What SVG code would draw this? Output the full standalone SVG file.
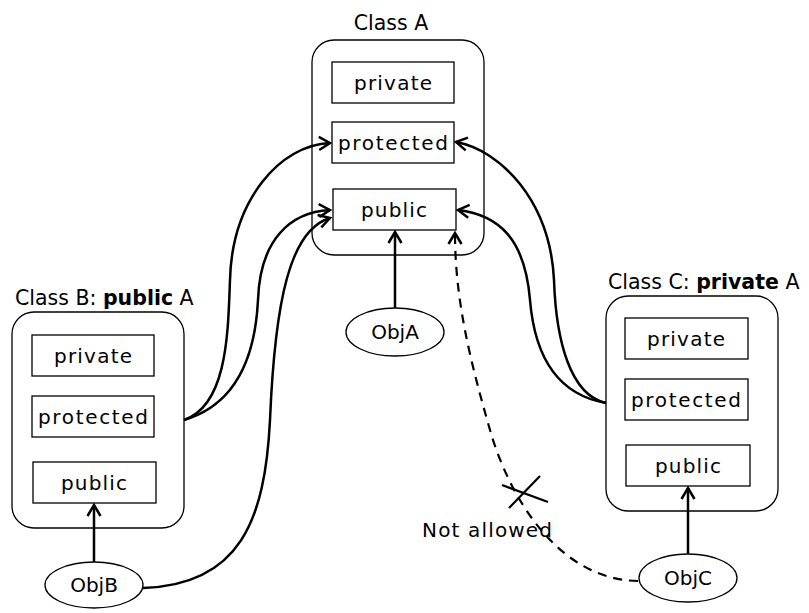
<svg xmlns="http://www.w3.org/2000/svg" width="809" height="613" viewBox="0 0 809 613">
<style>
.outer{fill:#fff;stroke:#000;stroke-width:1.3}
.box{fill:#fff;stroke:#000;stroke-width:1.3}
.lbl{font-family:"DejaVu Sans",sans-serif;font-size:20px;text-anchor:middle;fill:#000}
.ttl{font-family:"DejaVu Sans",sans-serif;font-size:20.5px;fill:#000}
.edge{fill:none;stroke:#000;stroke-width:2.5;marker-end:url(#arr)}
.dash{fill:none;stroke:#000;stroke-width:2.2;stroke-dasharray:9 7;marker-end:url(#arr)}
</style>
<defs>
<marker id="arr" markerUnits="userSpaceOnUse" viewBox="-13 -8 15 16" refX="0" refY="0" markerWidth="15" markerHeight="16" orient="auto">
<path d="M-11,-6.5 L0,0 L-11,6.5" fill="none" stroke="#000" stroke-width="2.5"/>
</marker>
</defs>
<g id="classA">
<text class="ttl" x="391" y="30" text-anchor="middle">Class A</text>
<rect class="outer" x="312" y="40" width="172" height="215" rx="22"/>
<rect class="box" x="332" y="62" width="122" height="41"/><text class="lbl" x="393" y="90" textLength="78">private</text>
<rect class="box" x="332" y="122" width="122" height="41"/><text class="lbl" x="393" y="150" textLength="110">protected</text>
<rect class="box" x="333" y="189" width="123" height="41"/><text class="lbl" x="394" y="217" textLength="66">public</text>
</g>
<g id="classB">
<text class="ttl" x="15" y="305">Class B: <tspan font-weight="bold">public</tspan> A</text>
<rect class="outer" x="12" y="312" width="172" height="216" rx="22"/>
<rect class="box" x="32" y="335" width="122" height="41"/><text class="lbl" x="93" y="363" textLength="78">private</text>
<rect class="box" x="32" y="396" width="122" height="41"/><text class="lbl" x="93" y="424" textLength="110">protected</text>
<rect class="box" x="33" y="462" width="123" height="41"/><text class="lbl" x="94" y="490" textLength="66">public</text>
</g>
<g id="classC">
<text class="ttl" x="608" y="289">Class C: <tspan font-weight="bold">private</tspan> A</text>
<rect class="outer" x="606" y="296" width="172" height="215" rx="22"/>
<rect class="box" x="625" y="318" width="123" height="41"/><text class="lbl" x="686" y="346" textLength="78">private</text>
<rect class="box" x="625" y="379" width="123" height="41"/><text class="lbl" x="686" y="407" textLength="110">protected</text>
<rect class="box" x="626" y="445" width="124" height="41"/><text class="lbl" x="688" y="473" textLength="66">public</text>
</g>
<g id="objA">
<ellipse class="box" cx="395" cy="332" rx="49" ry="24"/><text class="lbl" x="395" y="339">ObjA</text>
</g>
<g id="objB">
<ellipse class="box" cx="94" cy="585" rx="49" ry="23"/><text class="lbl" x="94" y="592">ObjB</text>
</g>
<g id="objC">
<ellipse class="box" cx="688" cy="578" rx="49" ry="24"/><text class="lbl" x="688" y="585">ObjC</text>
</g>
<g id="connectors">
<path class="edge" d="M395,308 L395,232"/>
<path class="edge" d="M94,562 L94,505"/>
<path class="edge" d="M688,554 L688,488"/>
<path class="edge" d="M184,420 C228,405 228,330 230,280 C232,200 280,145 330,143"/>
<path class="edge" d="M184,420 C235,405 255,360 258,300 C260,240 290,212 330,210"/>
<path class="edge" d="M143,588 C240,585 265,520 270,420 C275,300 290,230 330,218"/>
<path class="edge" d="M606,403 C570,395 556,340 554,280 C550,200 500,150 456,142"/>
<path class="edge" d="M606,403 C560,395 535,360 530,300 C525,240 500,215 458,210"/>
<path class="dash" d="M638,581 C560,580 510,500 490,430 C470,360 455,300 455,233"/>
<path d="M502,485 L548,502 M540,476 L509,508" stroke="#000" stroke-width="2.2" fill="none"/>
<text class="lbl" x="487" y="537" textLength="130">Not allowed</text>
</g>
</svg>
